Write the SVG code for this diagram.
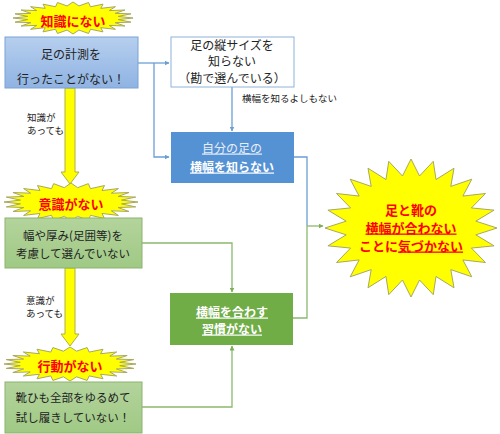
<svg xmlns="http://www.w3.org/2000/svg" width="500" height="434" viewBox="0 0 500 434">
<style>
  text { font-family: "Noto Sans CJK JP", "Noto Sans", sans-serif; }
  .t { font-size: 12px; fill: #222; text-anchor: middle; }
  .t2 { font-size: 11.5px; fill: #222; text-anchor: middle; }
  .lbl { font-size: 9.5px; fill: #222; }
  .burst { font-size: 13px; font-weight: bold; fill: #ff0000; text-anchor: middle; }
  .wb { font-size: 12px; font-weight: bold; fill: #ffffff; text-anchor: middle; text-decoration: underline; }
  .bl { fill: none; stroke: #6a9fd6; stroke-width: 1.3; }
  .gr { fill: none; stroke: #8db86f; stroke-width: 1.3; }
  .star { fill: #ffff00; stroke: #a8a860; stroke-width: 1; vector-effect: non-scaling-stroke; }
  .yarrow { fill: #ffff00; stroke: #b0b040; stroke-width: 1; }
</style>
<defs>
  <linearGradient id="gBlue" x1="0" y1="0" x2="0" y2="1">
    <stop offset="0" stop-color="#b6cfee"/>
    <stop offset="1" stop-color="#8fb3e3"/>
  </linearGradient>
  <linearGradient id="gGreen" x1="0" y1="0" x2="0" y2="1">
    <stop offset="0" stop-color="#b3d49c"/>
    <stop offset="1" stop-color="#a0c985"/>
  </linearGradient>
  <polygon id="starShape" class="star" points="1,0 .7535,.0992 .9659,.2588 .7022,.2909 .8660,.5 .6030,.4627 .7071,.7071 .4627,.6030 .5,.8660 .2909,.7022 .2588,.9659 .0992,.7535 0,1 -.0992,.7535 -.2588,.9659 -.2909,.7022 -.5,.8660 -.4627,.6030 -.7071,.7071 -.6030,.4627 -.8660,.5 -.7022,.2909 -.9659,.2588 -.7535,.0992 -1,0 -.7535,-.0992 -.9659,-.2588 -.7022,-.2909 -.8660,-.5 -.6030,-.4627 -.7071,-.7071 -.4627,-.6030 -.5,-.8660 -.2909,-.7022 -.2588,-.9659 -.0992,-.7535 0,-1 .0992,-.7535 .2588,-.9659 .2909,-.7022 .5,-.8660 .4627,-.6030 .7071,-.7071 .6030,-.4627 .8660,-.5 .7022,-.2909 .9659,-.2588 .7535,-.0992"/>
  <marker id="aBlue" viewBox="0 0 10 10" refX="9" refY="5" markerWidth="5" markerHeight="5" orient="auto" markerUnits="userSpaceOnUse">
    <path d="M0,0 L10,5 L0,10 z" fill="#6a9fd6"/>
  </marker>
  <marker id="aGreen" viewBox="0 0 10 10" refX="9" refY="5" markerWidth="5" markerHeight="5" orient="auto" markerUnits="userSpaceOnUse">
    <path d="M0,0 L10,5 L0,10 z" fill="#7fae5b"/>
  </marker>
</defs>

<g id="connectors">
  <path class="bl" d="M138,63 H169" marker-end="url(#aBlue)"/>
  <path class="bl" d="M154,63 V157 H169" marker-end="url(#aBlue)"/>
  <path class="bl" d="M232,87 V131" marker-end="url(#aBlue)"/>
  <path class="bl" d="M294,157 H307 V226"/>
  <path class="gr" d="M142,243 H232 V292" marker-end="url(#aGreen)"/>
  <path class="gr" d="M142,407 H232 V346" marker-end="url(#aGreen)"/>
  <path class="gr" d="M293,318 H307 V226"/>
  <path class="gr" d="M307,226 H323" marker-end="url(#aGreen)"/>
  <polygon class="yarrow" points="65,88 75,88 75,172 79,172 70,184 61,172 65,172"/>
  <polygon class="yarrow" points="65,268 75,268 75,334 79,334 70,346 61,334 65,334"/>
  <text class="lbl" x="242" y="102">横幅を知るよしもない</text>
  <text class="lbl" x="27" y="121">知識が</text>
  <text class="lbl" x="27" y="134">あっても</text>
  <text class="lbl" x="26" y="304">意識が</text>
  <text class="lbl" x="26" y="317">あっても</text>
</g>

<g id="star-chishiki">
  <use href="#starShape" transform="translate(73,18) scale(60,16)"/>
  <text class="burst" x="73" y="26">知識にない</text>
</g>

<g id="box-keisoku">
  <rect x="5" y="37" width="133" height="51" fill="url(#gBlue)" stroke="#7ba3d3" stroke-width="1"/>
  <text class="t" x="71" y="59">足の計測を</text>
  <text class="t" x="71" y="84">行ったことがない！</text>
</g>

<g id="box-tate">
  <rect x="171" y="37" width="123" height="50" fill="#ffffff" stroke="#8fb2dc" stroke-width="1"/>
  <text class="t" x="232" y="50">足の縦サイズを</text>
  <text class="t" x="232" y="66">知らない</text>
  <text class="t" x="232" y="83">（勘で選んでいる）</text>
</g>

<g id="box-yokohaba">
  <rect x="171" y="132" width="123" height="51" fill="#5592d3"/>
  <text x="232" y="152.5" font-size="12" fill="#e8eef8" text-anchor="middle" text-decoration="underline">自分の足の</text>
  <text class="wb" x="232" y="171.5">横幅を知らない</text>
</g>

<g id="star-ishiki">
  <use href="#starShape" transform="translate(71,202) scale(67,19)"/>
  <text class="burst" x="71" y="208.5">意識がない</text>
</g>

<g id="box-haba">
  <rect x="5" y="218" width="137" height="50" fill="url(#gGreen)" stroke="#8db36f" stroke-width="1"/>
  <text class="t2" x="73" y="240">幅や厚み(足囲等)を</text>
  <text class="t2" x="73" y="258">考慮して選んでいない</text>
</g>

<g id="box-shukan">
  <rect x="170" y="293" width="123" height="52" fill="#70ad47"/>
  <text class="wb" x="232" y="316.5">横幅を合わす</text>
  <text class="wb" x="232" y="333.5">習慣がない</text>
</g>

<g id="star-kodo">
  <use href="#starShape" transform="translate(70,364) scale(66,17)"/>
  <text class="burst" x="70" y="370.5">行動がない</text>
</g>

<g id="box-kutsuhimo">
  <rect x="5" y="382" width="137" height="51" fill="url(#gGreen)" stroke="#8db36f" stroke-width="1"/>
  <text class="t2" x="73" y="402">靴ひも全部をゆるめて</text>
  <text class="t2" x="73" y="421.5">試し履きしていない！</text>
</g>

<g id="star-result">
  <use href="#starShape" transform="translate(411,228) scale(86,69)"/>
  <text class="burst" x="411" y="214.5">足と靴の</text>
  <text class="burst" x="411" y="232.5" text-decoration="underline">横幅が合わない</text>
  <text class="burst" x="411" y="250.5">ことに<tspan text-decoration="underline">気づかない</tspan></text>
</g>
</svg>
